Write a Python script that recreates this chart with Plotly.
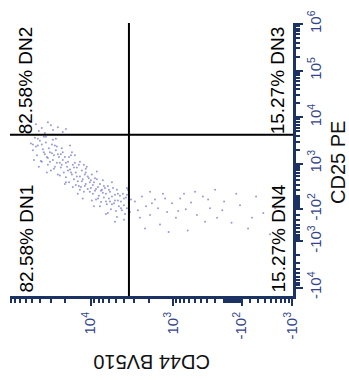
import numpy as np
import plotly.graph_objects as go

# ---------------- data (fluorescence units) ----------------
cd44 = [45000, 38300, 32400, 28200, 24600, 21500, 35200, 41500, 19700, 29800,
        51700, 48900, 46300, 43800, 42700, 40400, 39300, 37200, 36200, 35200, 47600, 41500, 38300, 45000,
        34200, 33300, 32400, 31500, 30600, 29800, 29000, 28200, 27400, 26700, 26000, 25300, 24600, 23900, 33300, 28200, 25300, 30600,
        22700, 22100, 21500, 20900, 20300, 19700, 19100, 18600, 18100, 17600, 17150, 16700, 16300, 15800, 22100, 20300, 18600, 15400, 23300, 16700,
        15000, 14600, 14200, 13800, 13400, 13050, 12700, 12400, 12000, 11700, 11400, 11100, 10800, 10500, 10200, 14200, 12000, 13400, 11400, 15000,
        9900, 9650, 9380, 9100, 8850, 8600, 8400, 8150, 7950, 7720, 7500, 7300, 7120, 6920, 6720, 9650, 8400, 7720, 8850, 7120,
        6540, 6370, 6200, 6020, 5850, 5700, 5540, 5390, 5240, 5100, 4960, 4830, 4700, 4570, 4440, 6200, 5540, 4830, 5850,
        4320, 4200, 4090, 3970, 3860, 3760, 3660, 3560, 3460, 3360, 3270, 3970, 3660,
        2930, 2700, 2410, 2150, 1920, 1670, 1530, 1330, 1180, 1020, 910, 800, 670, 565, 458, 365, 265, 176, 94, 11,
        -83, -176, -278, -380, -490, 2210, 1450, 630, 200, 1920,
        36200, 32400, 29000, 26700, 24600, 22700, 21500, 19700, 18100, 17150, 15800, 14600, 13800, 12700, 11700,
        10800, 10200, 9380, 8600, 8150, 7500, 6920, 6540, 6020, 5540, 5100, 4700, 4320, 3970, 3660,
        17600, 15400, 13400, 11400, 9900, 26000, 34200, 42700, 48900, 38300, 27400, 23300, 19700, 16300, 12400,
        9100, 6540, 5100,
        2550, 1820, 1250, 850, 490, 333, 115, -40, -225, 1130, 290, -585, 710]
cd25 = [7100, 5860, 7800, 5330, 6150, 4850, 4620, 5080, 5600, 6780,
        2730, 1950, 3640, 1530, 2480, 3150, 1140, 2050, 3820, 1610, 1200, 850, 2600, 2370,
        2860, 1390, 940, 2150, 1770, 690, 2600, 1200, 1530, 850, 1950, 1035, 560, 1390, 620, 3300, 2370, 1090,
        1610, 940, 1200, 620, 1390, 475, 850, 1090, 352, 730, 1530, 560, 940, 420, 2150, 310, 690, 1035, 530, 1770,
        620, 810, 375, 940, 500, 250, 690, 420, 164, 560, 310, 850, 215, 447, 352, 133, 940, 198, 620, 290,
        233, 560, 133, 352, 181, 43, 420, 250, 102, 310, 5, 198, 398, 72, 233, 28, 655, -57, 447, 148,
        133, -28, 270, 57, 164, -102, 87, 233, -14, 118, -133, 198, 28, -57, 102, -164, 352, -233, 14,
        14, -117, 133, -43, -181, 72, -86, 198, 0, -148, 43, -290, 233,
        14, -117, 87, -57, -198, 43, -86, 133, -148, -14, -251, 57, -102, 0, -198, 87, -86, -251, 14, -352,
        -43, -500, 87, -164, -690, -500, -398, -560, 198, 164,
        1770, 1330, 1690, 2480, 1610, 810, 1770, 1035, 1390, 620, 810, 500, 270, 375, 270,
        500, 164, 290, 215, 57, 181, 270, 14, 198, -28, 28, 133, -86, 57, 118,
        2480, 1530, 1090, 765, 398, 3470, 3820, 3470, 2600, 1090, 765, 1035, 352, 250, 57,
        -57, -181, -330,
        -251, -14, 57, -133, 164, -330, -117, 133, -251, -615, 43, -86, 133]

# quadrant gates and labels
CD44_GATE = 3460
CD25_GATE = 4200
quad_names = ["DN1", "DN2", "DN3", "DN4"]
quad_pcts = ["82.58%", "82.58%", "15.27%", "15.27%"]

# axis ticks
x_tick_vals = [1e5, 1e4, 1e3, -1e2, -1e3]
x_tick_text = ["10<sup>5</sup>", "10<sup>4</sup>", "10<sup>3</sup>", "-10<sup>2</sup>", "-10<sup>3</sup>"]
y_tick_vals = [1e6, 1e5, 1e4, 1e3, -1e2, -1e3, -1e4]
y_tick_text = ["10<sup>6</sup>", "10<sup>5</sup>", "10<sup>4</sup>", "10<sup>3</sup>",
               "-10<sup>2</sup>", "-10<sup>3</sup>", "-10<sup>4</sup>"]
X_RANGE = [92000, -1020]
Y_RANGE = [-15200, 1.05e6]

# ---------------- biexponential (arcsinh) scales ----------------
CX, CY = 400.0, 300.0
def tx(v):
    return np.arcsinh(np.asarray(v, dtype=float) / CX)
def ty(v):
    return np.arcsinh(np.asarray(v, dtype=float) / CY)

def minor_vals(max_exp, neg_exp):
    vals = []
    for e in range(2, max_exp):
        for k in range(2, 10):
            vals.append(k * 10 ** e)
    for e in range(2, neg_exp + 1):
        for k in range(2, 10):
            vals.append(-k * 10 ** e)
    for k in range(1, 10):
        vals.append(k * 10)
        vals.append(-k * 10)
    vals.append(100)
    vals.append(0)
    return vals

x_minor = [v for v in minor_vals(5, 3) if -1020 <= v <= 92000]
y_minor = [v for v in minor_vals(6, 4) if -15200 <= v <= 1.05e6]

AXC = "#1c3263"
TKC = "#33448a"
FONT = "Liberation Sans, Arial, sans-serif"

fig = go.Figure()
fig.add_trace(go.Scatter(
    x=tx(cd44), y=ty(cd25), mode="markers",
    marker=dict(size=2, color="rgba(85,85,200,0.6)", line=dict(width=0)),
    hoverinfo="skip", showlegend=False))

# gate lines
gx = float(tx(CD44_GATE)); gy = float(ty(CD25_GATE))
fig.add_shape(type="line", xref="x", yref="paper", x0=gx, x1=gx, y0=0, y1=1,
              line=dict(color="black", width=2))
fig.add_shape(type="line", xref="paper", yref="y", x0=0, x1=1, y0=gy, y1=gy,
              line=dict(color="black", width=2))

ann = []
qfont = dict(family=FONT, size=19, color="black")
# DN1 lower-left, DN2 upper-left, DN3 upper-right, DN4 lower-right
ann.append(dict(text=f"{quad_pcts[0]} {quad_names[0]}", xref="paper", yref="paper", x=0, y=0,
                xanchor="left", yanchor="bottom", xshift=3, yshift=1, textangle=-90,
                showarrow=False, font=qfont))
ann.append(dict(text=f"{quad_pcts[1]} {quad_names[1]}", xref="paper", yref="y", x=0, y=gy,
                xanchor="left", yanchor="bottom", xshift=3, yshift=-2, textangle=-90,
                showarrow=False, font=qfont))
ann.append(dict(text=f"{quad_pcts[2]} {quad_names[2]}", xref="paper", yref="y", x=1, y=gy,
                xanchor="right", yanchor="bottom", xshift=-3, yshift=-2, textangle=-90,
                showarrow=False, font=qfont))
ann.append(dict(text=f"{quad_pcts[3]} {quad_names[3]}", xref="paper", yref="paper", x=1, y=0,
                xanchor="right", yanchor="bottom", xshift=-3, yshift=1, textangle=-90,
                showarrow=False, font=qfont))
tfont = dict(family=FONT, size=20, color="#111111")
ann.append(dict(text="CD44 BV510", xref="paper", yref="paper", x=0.5, y=-0.244,
                xanchor="center", yanchor="middle", textangle=180, showarrow=False, font=tfont))
ann.append(dict(text="CD25 PE", xref="paper", yref="paper", x=1.159, y=0.491,
                xanchor="center", yanchor="middle", textangle=-90, showarrow=False, font=tfont))

fig.update_layout(
    width=349, height=380,
    margin=dict(l=10, r=56, t=13, b=84, pad=0),
    paper_bgcolor="white", plot_bgcolor="white",
    annotations=ann,
    xaxis=dict(range=[float(tx(X_RANGE[0])), float(tx(X_RANGE[1]))],
               tickmode="array", tickvals=list(tx(x_tick_vals)), ticktext=x_tick_text,
               tickangle=-90, ticks="outside", ticklen=7, tickwidth=2, tickcolor=AXC,
               tickfont=dict(family=FONT, size=15, color=TKC),
               showline=True, linewidth=3, linecolor=AXC, mirror=False,
               showgrid=False, zeroline=False,
               minor=dict(tickmode="array", tickvals=list(tx(x_minor)), ticks="outside",
                          ticklen=4, tickwidth=1.5, tickcolor=AXC, showgrid=False)),
    yaxis=dict(range=[float(ty(Y_RANGE[0])), float(ty(Y_RANGE[1]))], side="right",
               tickmode="array", tickvals=list(ty(y_tick_vals)), ticktext=y_tick_text,
               tickangle=-90, ticks="outside", ticklen=7, tickwidth=2, tickcolor=AXC,
               tickfont=dict(family=FONT, size=15, color=TKC),
               showline=True, linewidth=3, linecolor=AXC, mirror=False,
               showgrid=False, zeroline=False,
               minor=dict(tickmode="array", tickvals=list(ty(y_minor)), ticks="outside",
                          ticklen=4, tickwidth=1.5, tickcolor=AXC, showgrid=False)),
)

fig.write_html("out.html")
